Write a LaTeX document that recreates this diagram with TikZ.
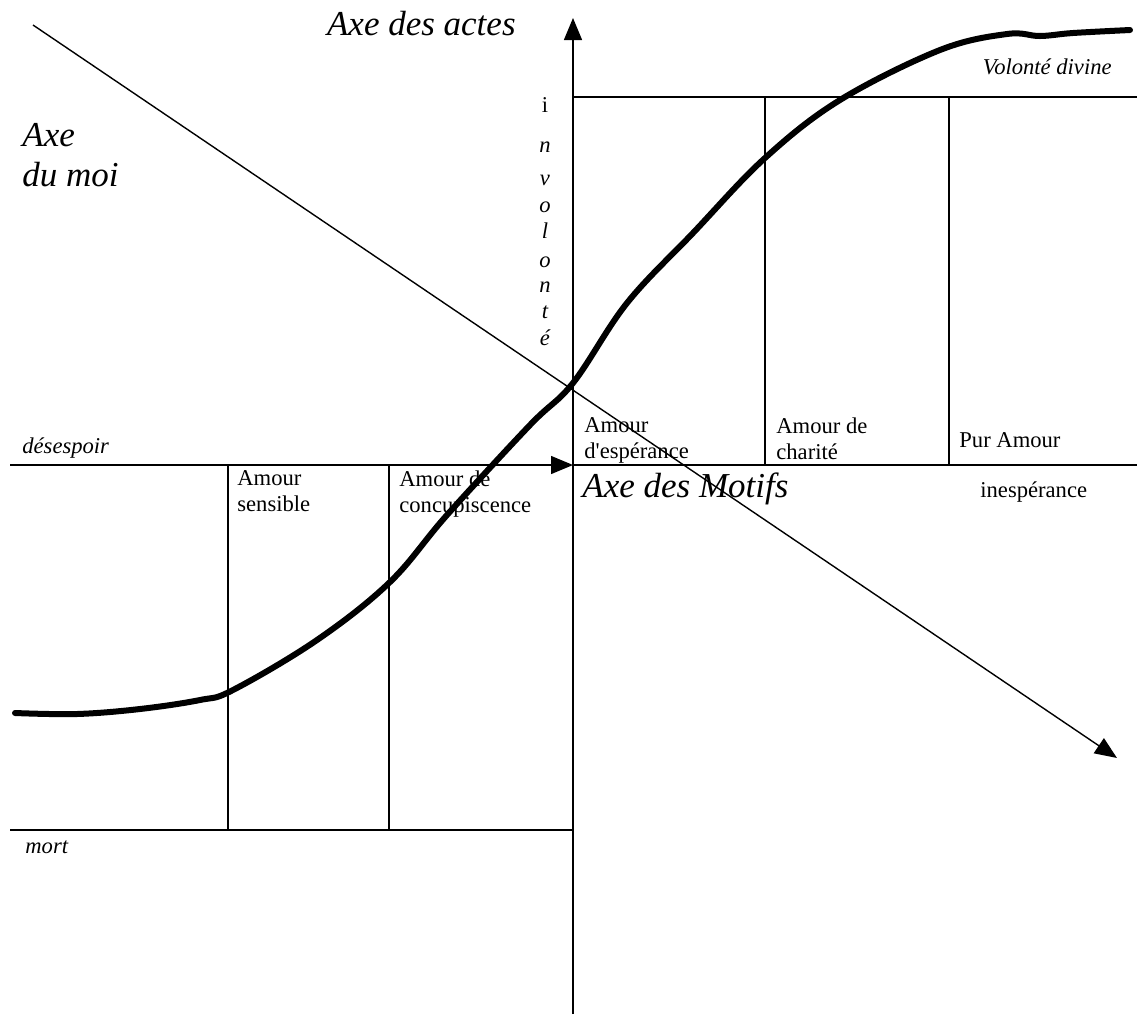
\documentclass[tikz,border=0pt]{standalone}
\usepackage{fontspec}
\setmainfont{Liberation Serif}
\usetikzlibrary{arrows.meta, positioning}
\tikzset{
  trait/.style={line width=0.7pt, color=black},
  fleche/.style={trait, -{Triangle[length=11pt, width=9pt]}},
  courbe/.style={line width=3pt, line cap=round, line join=round},
  titre/.style={font=\fontsize{17.5}{20}\selectfont\itshape, inner sep=0pt, align=left},
  amour/.style={font=\fontsize{11.3}{13.3}\selectfont, align=left, anchor=north west, inner sep=0pt},
  etiq/.style={font=\fontsize{11.3}{13}\selectfont\itshape, inner sep=0pt},
  lettre/.style={font=\fontsize{11.3}{13}\selectfont, inner sep=0pt, anchor=base}
}

\begin{document}
\begin{tikzpicture}[x=0.5pt, y=-0.5pt]
  \useasboundingbox (0,0) rectangle (1137,1014);
  % axes
  \coordinate (haut) at (573,18);
  \coordinate (bas) at (573,1014);
  \coordinate (gauche) at (10,465);
  \coordinate (centre) at (573,465);
  \coordinate (droite) at (1137,465);
  \coordinate (moi) at (33,25);
  \coordinate (moifin) at (1117,758);
  \draw[fleche] (bas) -- (haut);
  \draw[fleche] (gauche) -- (centre);
  \draw[trait] (centre) -- (droite);
  \draw[fleche] (moi) -- (moifin);
  % cadre du haut
  \coordinate (h1) at (573,97);
  \coordinate (h2) at (1137,97);
  \draw[trait] (h1) -- (h2);
  \draw[trait] (765,97) -- (765,465);
  \draw[trait] (949,97) -- (949,465);
  % cadre du bas
  \coordinate (b1) at (10,830);
  \coordinate (b2) at (573,830);
  \draw[trait] (b1) -- (b2);
  \draw[trait] (228,465) -- (228,830);
  \draw[trait] (389,465) -- (389,830);
  % courbe
  \draw[courbe] plot[smooth, tension=0.6] coordinates {
    (15,713) (77,714) (140,709) (200,700) (233,690) (317,640) (390,582)
    (447,515) (530,425) (573,383) (627,303) (693,233) (765,158) (840,100)
    (940,50) (1007,34) (1040,36) (1073,33) (1130,30)};
  % textes
  \node[titre, anchor=base east] (actes) at (516,35) {Axe des actes};
  \node[titre, anchor=north west] (axemoi) at (22,123) {Axe\\du moi};
  \node[titre, anchor=base west] (motifs) at (582,497) {Axe des Motifs};
  \node[etiq, anchor=base west] (desespoir) at (22,453) {désespoir};
  \node[etiq, anchor=base west] (mort) at (25,853) {mort};
  \node[etiq, anchor=base east] (divine) at (1112,74) {Volonté divine};
  \node[etiq, font=\fontsize{11.3}{13}\selectfont, anchor=base west] (inesp) at (980,497) {inespérance};
  \node[amour] (esperance) at (584,417) {Amour\\d\textquotesingle espérance};
  \node[amour] (charite) at (776,417) {Amour de\\charité};
  \node[amour, anchor=base west] (pur) at (959,447) {Pur Amour};
  \node[amour] (sensible) at (237,470) {Amour\\sensible};
  \node[amour] (concup) at (399,470) {Amour de\\concupiscence};
  % involonté
  \node[lettre] (l0) at (545,112) {i};
  \foreach \c/\y [count=\i] in {n/152, v/185, o/212, l/238, o/267, n/292, t/318, é/345}
    \node[lettre, font=\fontsize{11.3}{13}\selectfont\itshape] (l\i) at (545,\y) {\c};
\end{tikzpicture}
\end{document}
